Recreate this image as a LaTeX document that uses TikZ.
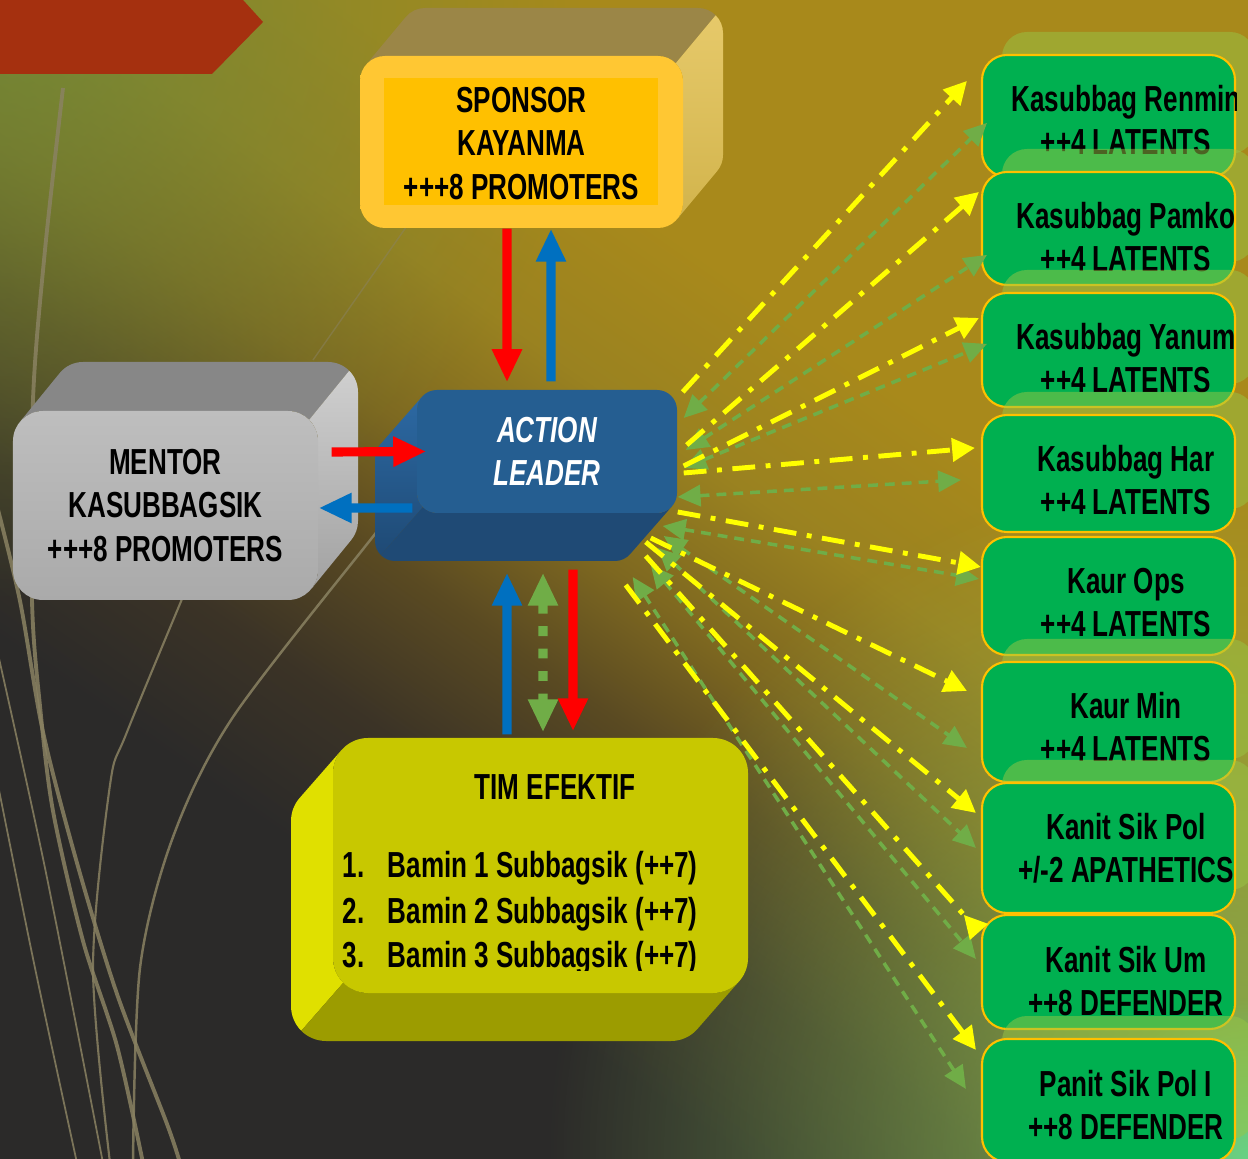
\documentclass[tikz,border=0pt]{standalone}
\usepackage{fontspec}
\newfontfamily\sempit{Liberation Sans}[FakeStretch=0.72]
\usetikzlibrary{arrows.meta,fadings}

% warna
\definecolor{latgelap}{HTML}{2B2A29}
\definecolor{latcoklat1}{HTML}{3B3326}
\definecolor{latcoklat2}{HTML}{5A4A22}
\definecolor{latcoklat3}{HTML}{7E6820}
\definecolor{latemas2}{HTML}{9A8220}
\definecolor{latemas}{HTML}{A8891B}
\definecolor{latzaitun}{HTML}{6E8A3A}
\definecolor{lathijau}{HTML}{8CC25A}
\definecolor{lathijau2}{HTML}{62D88E}
\definecolor{hias}{HTML}{8A8262}
\definecolor{pitamerah}{HTML}{A5300F}
\definecolor{sptop}{HTML}{9B8647}
\definecolor{spsisi1}{HTML}{E6C96A}
\definecolor{spsisi2}{HTML}{D2B44C}
\definecolor{spbingkai}{HTML}{FFC733}
\definecolor{spband}{HTML}{E5B700}
\definecolor{spdalam}{HTML}{FFC000}
\definecolor{mntop}{HTML}{878787}
\definecolor{mnsisi1}{HTML}{CFCFCF}
\definecolor{mnsisi2}{HTML}{A2A2A2}
\definecolor{mndepan1}{HTML}{BEBEBE}
\definecolor{mndepan2}{HTML}{AAAAAA}
\definecolor{albiru}{HTML}{255E91}
\definecolor{aldasar}{HTML}{1F4A75}
\definecolor{alsisi1}{HTML}{2C69A3}
\definecolor{tmdepan}{HTML}{C8C800}
\definecolor{tmsisi}{HTML}{E0E000}
\definecolor{tmdasar}{HTML}{9C9C00}
\definecolor{uhijau}{HTML}{00B050}
\definecolor{ubingkai}{HTML}{FFC000}
\definecolor{ubelakang}{HTML}{98C646}
\definecolor{kuning}{HTML}{FFFF00}
\definecolor{hijaukipas}{HTML}{70AD47}
\definecolor{merah}{HTML}{FF0000}
\definecolor{biru}{HTML}{0070C0}

\pgfdeclareverticalshading{latar}{100bp}{color(0bp)=(latgelap); color(33bp)=(latgelap);
  color(39bp)=(latcoklat1); color(45bp)=(latcoklat2); color(50bp)=(latcoklat3);
  color(56bp)=(latemas2); color(63bp)=(latemas); color(100bp)=(latemas)}
\tikzfading[name=pudar, inner color=transparent!15, outer color=transparent!100]

\tikzset{
  teks/.style={align=center, inner sep=0pt, text=black},
  garis hias/.style={draw=hias, opacity=0.85},
  udepan/.style={draw=ubingkai, line width=0.6pt, fill=uhijau, rounded corners=0.25cm,
    minimum width=2.53cm, inner sep=0pt},
  panah besar/.style={line width=2.6pt, -{Triangle[width=8pt,length=9.4pt]}},
  kipas kuning/.style={draw=kuning, line width=1.4pt,
    dash pattern=on 6.5pt off 3pt on 1.4pt off 3pt, -{Triangle[width=6.5pt,length=6.5pt]}},
  kipas hijau/.style={draw=hijaukipas, line width=1pt, dash pattern=on 2.8pt off 2pt,
    {Triangle[width=6pt,length=6.5pt]}-{Triangle[width=6pt,length=6.5pt]}},
}

\begin{document}
\begin{tikzpicture}[font=\sempit\bfseries\fontsize{10.3}{12.4}\selectfont]
\useasboundingbox (0,0) rectangle (12.48,11.58);
\clip (0,0) rectangle (12.48,11.58);

% --- latar ---
\shade[shading=latar, shading angle=-35] (0,0) rectangle (12.48,11.58);
\fill[latzaitun, path fading=pudar] (0,11.58) circle (6);
\fill[lathijau, path fading=pudar] (12.48,0) circle (7);
\fill[lathijau2, path fading=pudar] (12.48,0) circle (1.6);

% garis hiasan
\draw[garis hias, line width=1.1pt] plot[smooth] coordinates {(0.63,10.70) (0.45,9.08) (0.33,7.58) (0.32,5.58) (0.40,4.52) (0.53,3.47) (0.83,2.17) (1.17,1.12) (1.43,-0.05)};
\draw[garis hias, line width=1.1pt] plot[smooth] coordinates {(-0.05,6.60) (0.20,5.57) (0.43,4.26) (0.77,2.95) (1.17,1.64) (1.67,0.34) (1.80,-0.05)};
\draw[garis hias, line width=0.5pt] plot[smooth] coordinates {(-0.02,5.04) (0.45,2.90) (1.03,-0.05)};
\draw[garis hias, line width=0.5pt] plot[smooth] coordinates {(-0.02,3.73) (0.35,1.90) (0.77,-0.05)};
\draw[garis hias, line width=0.6pt] plot[smooth] coordinates {(1.95,5.90) (1.27,4.26) (1.10,3.73) (0.93,1.90) (1.10,-0.05)};
\draw[garis hias, line width=0.7pt] plot[smooth] coordinates {(4.00,6.55) (3.75,6.24) (2.33,4.41) (1.73,3.21) (1.40,1.90) (1.33,-0.05)};
\draw[garis hias, line width=0.4pt, opacity=0.5] (4.30,9.65) -- (3.13,7.98);

% pita merah
\fill[pitamerah] (0,11.58) -- (2.43,11.58) -- (2.63,11.36) -- (2.12,10.84) -- (0,10.84) -- cycle;

% --- SPONSOR (sisi atas dan kanan) ---
\fill[sptop] (3.658,10.930) arc[start angle=140.2, end angle=90, radius=0.25] -- (6.58,11.02)
  arc[start angle=90, end angle=45, radius=0.25] -- ++(0.40,0.48)
  arc[start angle=45, end angle=90, radius=0.25] -- (4.25,11.50)
  arc[start angle=90, end angle=140.2, radius=0.25] -- cycle;
\shade[top color=spsisi1, bottom color=spsisi2] (6.757,10.947) arc[start angle=45, end angle=0, radius=0.25] -- (6.83,9.55)
  arc[start angle=0, end angle=-39.8, radius=0.25] -- ++(0.40,0.48)
  arc[start angle=-39.8, end angle=0, radius=0.25] -- (7.23,11.25)
  arc[start angle=0, end angle=45, radius=0.25] -- cycle;
\node[top color=spbingkai, middle color=spband, bottom color=spbingkai, rounded corners=0.25cm,
  minimum width=3.23cm, minimum height=1.72cm, inner sep=0pt] (sponsor) at (5.215,10.16) {};
\fill[spdalam] (3.84,9.53) rectangle (6.58,10.80);
\node[teks] (sponsorteks) at (5.215,10.145) {SPONSOR\\KAYANMA\\+++8 PROMOTERS};

% --- MENTOR ---
\fill[mntop] (0.198,7.360) arc[start angle=140.8, end angle=90, radius=0.3] -- (2.88,7.47)
  arc[start angle=90, end angle=45, radius=0.3] -- ++(0.40,0.49)
  arc[start angle=45, end angle=90, radius=0.3] -- (0.83,7.96)
  arc[start angle=90, end angle=140.8, radius=0.3] -- cycle;
\shade[top color=mnsisi1, bottom color=mnsisi2] (3.092,7.382) arc[start angle=45, end angle=0, radius=0.3] -- (3.18,5.88)
  arc[start angle=0, end angle=-39.2, radius=0.3] -- ++(0.40,0.49)
  arc[start angle=-39.2, end angle=0, radius=0.3] -- (3.58,7.66)
  arc[start angle=0, end angle=45, radius=0.3] -- cycle;
\node[teks, top color=mndepan1, bottom color=mndepan2, rounded corners=0.3cm,
  minimum width=3.05cm, minimum height=1.89cm] (mentor) at (1.655,6.525) {MENTOR\\KASUBBAGSIK\\+++8 PROMOTERS};

% --- ACTION LEADER (sisi kiri dan bawah) ---
\shade[top color=alsisi1, bottom color=aldasar] (4.220,7.612) arc[start angle=138.8, end angle=180, radius=0.2] -- (4.17,6.65)
  arc[start angle=180, end angle=225, radius=0.2] -- ++(-0.42,-0.48)
  arc[start angle=225, end angle=180, radius=0.2] -- (3.75,7.00)
  arc[start angle=180, end angle=138.8, radius=0.2] -- cycle;
\fill[aldasar] (4.229,6.509) arc[start angle=225, end angle=270, radius=0.2] -- (6.57,6.45)
  arc[start angle=270, end angle=318.8, radius=0.2] -- ++(-0.42,-0.48)
  arc[start angle=318.8, end angle=270, radius=0.2] -- (3.95,5.97)
  arc[start angle=270, end angle=225, radius=0.2] -- cycle;
\node[teks, fill=albiru, rounded corners=0.2cm, minimum width=2.6cm, minimum height=1.23cm,
  text=white, font=\sempit\bfseries\itshape\fontsize{10.3}{12.4}\selectfont] (leader) at (5.47,7.065) {ACTION\\LEADER};

% --- TIM EFEKTIF ---
\fill[tmsisi] (3.417,4.081) arc[start angle=138.8, end angle=180, radius=0.35] -- (3.33,2.00)
  arc[start angle=180, end angle=225, radius=0.35] -- ++(-0.42,-0.48)
  arc[start angle=225, end angle=180, radius=0.35] -- (2.91,3.37)
  arc[start angle=180, end angle=138.8, radius=0.35] -- cycle;
\fill[tmdasar] (3.433,1.753) arc[start angle=225, end angle=270, radius=0.35] -- (7.13,1.65)
  arc[start angle=270, end angle=318.8, radius=0.35] -- ++(-0.42,-0.48)
  arc[start angle=318.8, end angle=270, radius=0.35] -- (3.26,1.17)
  arc[start angle=270, end angle=225, radius=0.35] -- cycle;
\node[fill=tmdepan, rounded corners=0.35cm, minimum width=4.15cm, minimum height=2.55cm] (tim) at (5.405,2.925) {};
\node[teks, anchor=base] (timjudul) at (5.55,3.58) {TIM EFEKTIF};
\begin{scope}
  \clip (3.33,1.88) rectangle (7.48,4.20);
  \foreach \n/\yy in {1/2.80, 2/2.35, 3/1.91} {
    \node[teks, anchor=base west] (nomor\n) at (3.42,\yy) {\n.};
    \node[teks, anchor=base west] (bamin\n) at (3.87,\yy) {Bamin \n\ Subbagsik (++7)};
  }
\end{scope}

% --- unit kanan ---
\foreach \i/\bt/\bb/\bl/\la/\lb in {
    1/55/177/1/Kasubbag Renmin/++4 LATENTS,
    2/172/285/1/Kasubbag Pamko/++4 LATENTS,
    3/293/407/1/Kasubbag Yanum/++4 LATENTS,
    4/415/532/1/Kasubbag Har/++4 LATENTS,
    5/537/655/0/Kaur Ops/++4 LATENTS,
    6/662/782/1/Kaur Min/++4 LATENTS,
    7/783/913/1/Kanit Sik Pol/{+/-2 APATHETICS},
    8/915/1029/0/Kanit Sik Um/++8 DEFENDER,
    9/1039/1162/1/Panit Sik Pol I/++8 DEFENDER}
{
  \pgfmathsetmacro\yt{11.58-\bt/100}
  \pgfmathsetmacro\yb{11.58-\bb/100}
  \pgfmathsetmacro\yc{(\yt+\yb)/2}
  \pgfmathsetmacro\hh{\yt-\yb}
  \ifnum\bl=1
    \fill[ubelakang, fill opacity=0.5, rounded corners=0.25cm] (10.02,\yb+0.23) rectangle (12.55,\yt+0.23);
  \fi
  \node[udepan, minimum height=\hh cm] (unit\i) at (11.085,\yc) {};
  \begin{scope}
    \clip[rounded corners=0.25cm] (unit\i.south west) rectangle (unit\i.north east);
    \node[teks, anchor=base] (unit\i-a) at (11.26,\yt-0.57) {\la};
    \node[teks, anchor=base] (unit\i-b) at (11.26,\yt-1.00) {\lb};
  \end{scope}
}

% --- panah utama ---
\draw[panah besar, merah] ([xshift=-1.45mm]sponsor.south) -- ([xshift=-4mm,yshift=0.7mm]leader.north);
\draw[panah besar, biru] ([xshift=0.4mm,yshift=0.8mm]leader.north) -- ([xshift=2.95mm]sponsor.south);
\draw[panah besar, merah] ([xshift=1.3mm,yshift=5.35mm]mentor.east) -- ([xshift=1mm]leader.west);
\draw[panah besar, biru] ([xshift=-0.4mm,yshift=-5.65mm]leader.west) -- ([yshift=-0.25mm]mentor.east);
\draw[panah besar, biru] ([xshift=-3.35mm,yshift=0.3mm]tim.north) -- ([xshift=-4mm,yshift=-5.9mm]leader.south);
\draw[line width=2.6pt, hijaukipas, dash pattern=on 2.8pt off 3.6pt,
  {Triangle[width=8pt,length=9.4pt]}-{Triangle[width=8pt,length=9.4pt]}]
  ([xshift=-0.4mm,yshift=-5.9mm]leader.south) -- ([xshift=0.25mm,yshift=0.5mm]tim.north);
\draw[panah besar, merah] ([xshift=2.6mm,yshift=-5.6mm]leader.south) -- ([xshift=3.25mm,yshift=0.6mm]tim.north);

% --- kipas ke unit ---
\foreach \i/\sx/\sy/\ex/\ey in {1/0.06/0.335/0.06/-0.69, 2/0.08/0.015/0.06/-0.84,
    3/0.06/-0.165/0.06/-0.52, 4/0.00/-0.455/-0.20/-0.66, 5/-0.15/-0.745/-0.02/-0.43,
    6/-0.14/-0.845/-0.14/-0.87, 7/-0.20/-0.965/-0.05/-0.66, 8/-0.27/-1.135/-0.05/-0.45,
    9/-0.45/-1.255/-0.15/-0.51}
  \draw[kipas hijau] ([shift={(\sx,\sy)}]leader.east) -- ([shift={(\ex,\ey)}]unit\i.north west);
\foreach \i/\sx/\sy/\ex/\ey in {1/0.05/0.595/-0.14/-0.27, 2/0.09/0.065/-0.02/-0.21,
    3/0.06/-0.145/-0.02/-0.26, 4/0.06/-0.215/-0.06/-0.34, 5/0.00/-0.605/0.00/-0.31,
    6/-0.27/-0.865/-0.14/-0.30, 7/-0.32/-0.905/-0.05/-0.31, 9/-0.52/-1.335/-0.05/-0.12}
  \draw[kipas kuning] ([shift={(\sx,\sy)}]leader.east) -- ([shift={(\ex,\ey)}]unit\i.north west);
\draw[kipas kuning, -{Triangle[width=6.5pt,length=6.5pt,reversed]}] ([shift={(-0.32,-1.045)}]leader.east) -- ([shift={(-0.02,-0.18)}]unit8.north west);

\end{tikzpicture}
\end{document}
